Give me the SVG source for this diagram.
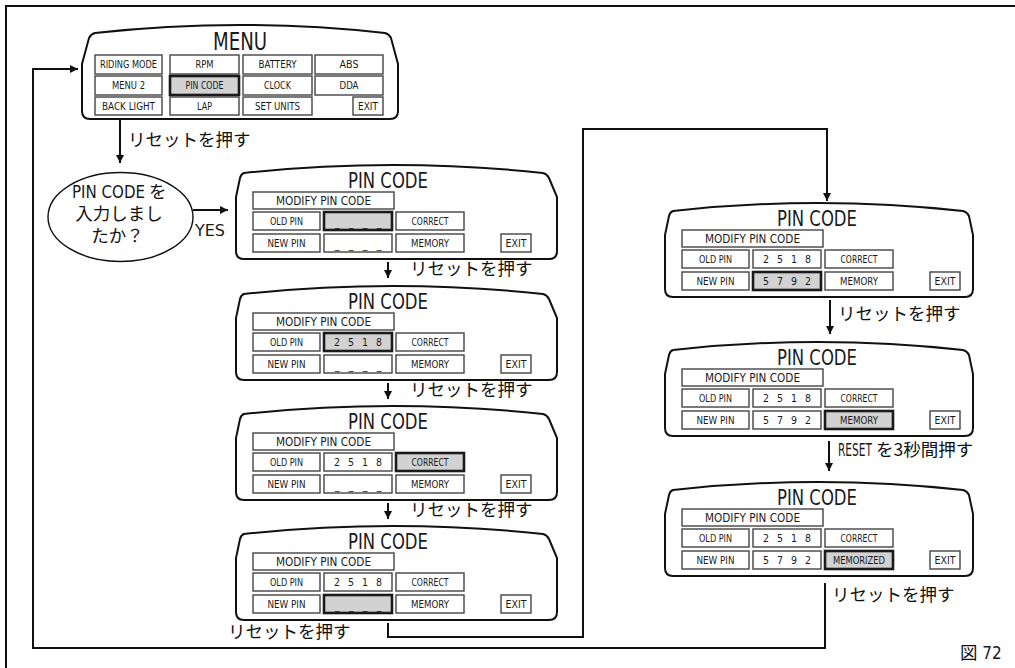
<svg xmlns="http://www.w3.org/2000/svg" width="1015" height="668" viewBox="0 0 1015 668">
<style>
.n{font-family:"Liberation Sans Narrow","Arial Narrow","DejaVu Sans Condensed","Liberation Sans",sans-serif;font-stretch:condensed;fill:#1a1a1a}
.jp{font-family:"Noto Sans CJK JP","Noto Sans CJK SC",sans-serif;fill:#111;font-size:17.5px}
.out{fill:#fff;stroke:#111;stroke-width:2}
.c{fill:#fff;stroke:#444;stroke-width:1.4}
.hl{fill:#d2d2d2;stroke:#1a1a1a;stroke-width:2.6}
.t{font-size:22px;text-anchor:middle}
.s{font-size:10.5px;text-anchor:middle}
.m{font-size:12px;text-anchor:middle}
.ln{fill:none;stroke:#111;stroke-width:2}
</style>
<defs>
<marker id="ah" viewBox="0 0 10 10" refX="10" refY="5" markerWidth="8" markerHeight="8" orient="auto" markerUnits="userSpaceOnUse"><path d="M0,0 L10,5 L0,10 Z" fill="#111"/></marker>
</defs>

<path class="ln" d="M6,668 L6,6 L1015,6"/>

<g id="menu">
<path class="out" d="M95,33 Q240,17 385,33 Q389,34 391,38 L398,64 L398,111 Q398,119 390,119 L90,119 Q82,119 82,111 L82,64 L89,38 Q91,34 95,33 Z"/>
<text class="n" x="240" y="50" font-size="24" text-anchor="middle" textLength="54" lengthAdjust="spacingAndGlyphs">MENU</text>
<rect class="c" x="95" y="55" width="67" height="19"/><text class="n s" x="128.5" y="68.3" textLength="57" lengthAdjust="spacingAndGlyphs">RIDING MODE</text>
<rect class="c" x="170" y="55" width="69" height="19"/><text class="n s" x="204.5" y="68.3" textLength="18" lengthAdjust="spacingAndGlyphs">RPM</text>
<rect class="c" x="243" y="55" width="69" height="19"/><text class="n s" x="277.5" y="68.3" textLength="38" lengthAdjust="spacingAndGlyphs">BATTERY</text>
<rect class="c" x="315" y="55" width="68" height="19"/><text class="n s" x="349" y="68.3" textLength="19" lengthAdjust="spacingAndGlyphs">ABS</text>
<rect class="c" x="95" y="76" width="67" height="19"/><text class="n s" x="128.5" y="89.3" textLength="33" lengthAdjust="spacingAndGlyphs">MENU 2</text>
<rect class="hl" x="170" y="76" width="69" height="19"/><text class="n s" x="204.5" y="89.3" textLength="38" lengthAdjust="spacingAndGlyphs">PIN CODE</text>
<rect class="c" x="243" y="76" width="69" height="19"/><text class="n s" x="277.5" y="89.3" textLength="27" lengthAdjust="spacingAndGlyphs">CLOCK</text>
<rect class="c" x="315" y="76" width="68" height="19"/><text class="n s" x="349" y="89.3" textLength="19" lengthAdjust="spacingAndGlyphs">DDA</text>
<rect class="c" x="95" y="97" width="67" height="18"/><text class="n s" x="128.5" y="109.8" textLength="53" lengthAdjust="spacingAndGlyphs">BACK LIGHT</text>
<rect class="c" x="170" y="97" width="69" height="18"/><text class="n s" x="204.5" y="109.8" textLength="15" lengthAdjust="spacingAndGlyphs">LAP</text>
<rect class="c" x="243" y="97" width="69" height="18"/><text class="n s" x="277.5" y="109.8" textLength="45" lengthAdjust="spacingAndGlyphs">SET UNITS</text>
<rect class="c" x="353" y="97" width="30" height="18"/><text class="n s" x="368" y="109.8" textLength="20" lengthAdjust="spacingAndGlyphs">EXIT</text>
</g>

<g id="decision">
<ellipse cx="120.5" cy="217" rx="72.5" ry="44.5" fill="#fff" stroke="#111" stroke-width="1.4"/>
<text y="198"><tspan class="n" font-size="17" x="72" textLength="73" lengthAdjust="spacingAndGlyphs">PIN CODE</tspan><tspan class="jp" font-size="17.5" x="149">を</tspan></text>
<text class="jp" font-size="17.5" text-anchor="middle" x="119" y="220">入力しまし</text>
<text class="jp" font-size="17.5" text-anchor="middle" x="117.5" y="242">たか？</text>
</g>

<g id="screen-1">
<path class="out" d="M244,173 Q393,157 543,173 Q547,174 549,178 L557,197 L557,251 Q557,259 549,259 L244,259 Q236,259 236,251 L236,197 L240,178 Q241,174 244,173 Z"/>
<text class="n t" x="388" y="188" textLength="80" lengthAdjust="spacingAndGlyphs">PIN CODE</text>
<rect class="c" x="253" y="192" width="141" height="17"/><text class="n m" x="323.5" y="204.5" textLength="95" lengthAdjust="spacingAndGlyphs">MODIFY PIN CODE</text>
<rect class="c" x="253" y="212" width="67" height="18"/><text class="n s" x="286.5" y="224.8" textLength="33" lengthAdjust="spacingAndGlyphs">OLD PIN</text>
<rect class="hl" x="324" y="212" width="68" height="18"/><text class="n s" x="337 351 365 379" y="226">____</text>
<rect class="c" x="396" y="212" width="68" height="18"/><text class="n s" x="430" y="224.8" textLength="37" lengthAdjust="spacingAndGlyphs">CORRECT</text>
<rect class="c" x="253" y="234" width="67" height="18"/><text class="n s" x="286.5" y="246.8" textLength="38" lengthAdjust="spacingAndGlyphs">NEW PIN</text>
<rect class="c" x="324" y="234" width="68" height="18"/><text class="n s" x="337 351 365 379" y="248">____</text>
<rect class="c" x="396" y="234" width="68" height="18"/><text class="n s" x="430" y="246.8" textLength="38" lengthAdjust="spacingAndGlyphs">MEMORY</text>
<rect class="c" x="501" y="234" width="30" height="18"/><text class="n s" x="516" y="246.8" textLength="21" lengthAdjust="spacingAndGlyphs">EXIT</text>
</g>

<g id="screen-2" transform="translate(0,121)">
<path class="out" d="M244,173 Q393,157 543,173 Q547,174 549,178 L557,197 L557,251 Q557,259 549,259 L244,259 Q236,259 236,251 L236,197 L240,178 Q241,174 244,173 Z"/>
<text class="n t" x="388" y="188" textLength="80" lengthAdjust="spacingAndGlyphs">PIN CODE</text>
<rect class="c" x="253" y="192" width="141" height="17"/><text class="n m" x="323.5" y="204.5" textLength="95" lengthAdjust="spacingAndGlyphs">MODIFY PIN CODE</text>
<rect class="c" x="253" y="212" width="67" height="18"/><text class="n s" x="286.5" y="224.8" textLength="33" lengthAdjust="spacingAndGlyphs">OLD PIN</text>
<rect class="hl" x="324" y="212" width="68" height="18"/><text class="n s" x="337 351 365 379" y="224.8">2518</text>
<rect class="c" x="396" y="212" width="68" height="18"/><text class="n s" x="430" y="224.8" textLength="37" lengthAdjust="spacingAndGlyphs">CORRECT</text>
<rect class="c" x="253" y="234" width="67" height="18"/><text class="n s" x="286.5" y="246.8" textLength="38" lengthAdjust="spacingAndGlyphs">NEW PIN</text>
<rect class="c" x="324" y="234" width="68" height="18"/><text class="n s" x="337 351 365 379" y="248">____</text>
<rect class="c" x="396" y="234" width="68" height="18"/><text class="n s" x="430" y="246.8" textLength="38" lengthAdjust="spacingAndGlyphs">MEMORY</text>
<rect class="c" x="501" y="234" width="30" height="18"/><text class="n s" x="516" y="246.8" textLength="21" lengthAdjust="spacingAndGlyphs">EXIT</text>
</g>

<g id="screen-3" transform="translate(0,241)">
<path class="out" d="M244,173 Q393,157 543,173 Q547,174 549,178 L557,197 L557,251 Q557,259 549,259 L244,259 Q236,259 236,251 L236,197 L240,178 Q241,174 244,173 Z"/>
<text class="n t" x="388" y="188" textLength="80" lengthAdjust="spacingAndGlyphs">PIN CODE</text>
<rect class="c" x="253" y="192" width="141" height="17"/><text class="n m" x="323.5" y="204.5" textLength="95" lengthAdjust="spacingAndGlyphs">MODIFY PIN CODE</text>
<rect class="c" x="253" y="212" width="67" height="18"/><text class="n s" x="286.5" y="224.8" textLength="33" lengthAdjust="spacingAndGlyphs">OLD PIN</text>
<rect class="c" x="324" y="212" width="68" height="18"/><text class="n s" x="337 351 365 379" y="224.8">2518</text>
<rect class="hl" x="396" y="212" width="68" height="18"/><text class="n s" x="430" y="224.8" textLength="37" lengthAdjust="spacingAndGlyphs">CORRECT</text>
<rect class="c" x="253" y="234" width="67" height="18"/><text class="n s" x="286.5" y="246.8" textLength="38" lengthAdjust="spacingAndGlyphs">NEW PIN</text>
<rect class="c" x="324" y="234" width="68" height="18"/><text class="n s" x="337 351 365 379" y="248">____</text>
<rect class="c" x="396" y="234" width="68" height="18"/><text class="n s" x="430" y="246.8" textLength="38" lengthAdjust="spacingAndGlyphs">MEMORY</text>
<rect class="c" x="501" y="234" width="30" height="18"/><text class="n s" x="516" y="246.8" textLength="21" lengthAdjust="spacingAndGlyphs">EXIT</text>
</g>

<g id="screen-4" transform="translate(0,361)">
<path class="out" d="M244,173 Q393,157 543,173 Q547,174 549,178 L557,197 L557,251 Q557,259 549,259 L244,259 Q236,259 236,251 L236,197 L240,178 Q241,174 244,173 Z"/>
<text class="n t" x="388" y="188" textLength="80" lengthAdjust="spacingAndGlyphs">PIN CODE</text>
<rect class="c" x="253" y="192" width="141" height="17"/><text class="n m" x="323.5" y="204.5" textLength="95" lengthAdjust="spacingAndGlyphs">MODIFY PIN CODE</text>
<rect class="c" x="253" y="212" width="67" height="18"/><text class="n s" x="286.5" y="224.8" textLength="33" lengthAdjust="spacingAndGlyphs">OLD PIN</text>
<rect class="c" x="324" y="212" width="68" height="18"/><text class="n s" x="337 351 365 379" y="224.8">2518</text>
<rect class="c" x="396" y="212" width="68" height="18"/><text class="n s" x="430" y="224.8" textLength="37" lengthAdjust="spacingAndGlyphs">CORRECT</text>
<rect class="c" x="253" y="234" width="67" height="18"/><text class="n s" x="286.5" y="246.8" textLength="38" lengthAdjust="spacingAndGlyphs">NEW PIN</text>
<rect class="hl" x="324" y="234" width="68" height="18"/><text class="n s" x="337 351 365 379" y="248">____</text>
<rect class="c" x="396" y="234" width="68" height="18"/><text class="n s" x="430" y="246.8" textLength="38" lengthAdjust="spacingAndGlyphs">MEMORY</text>
<rect class="c" x="501" y="234" width="30" height="18"/><text class="n s" x="516" y="246.8" textLength="21" lengthAdjust="spacingAndGlyphs">EXIT</text>
</g>

<g id="screen-5" transform="translate(429,38)">
<path class="out" d="M244,173 Q389,157 534,173 Q538,174 540,178 L544,197 L544,251 Q544,259 536,259 L244,259 Q236,259 236,251 L236,197 L240,178 Q241,174 244,173 Z"/>
<text class="n t" x="388" y="188" textLength="80" lengthAdjust="spacingAndGlyphs">PIN CODE</text>
<rect class="c" x="253" y="192" width="141" height="17"/><text class="n m" x="323.5" y="204.5" textLength="95" lengthAdjust="spacingAndGlyphs">MODIFY PIN CODE</text>
<rect class="c" x="253" y="212" width="67" height="18"/><text class="n s" x="286.5" y="224.8" textLength="33" lengthAdjust="spacingAndGlyphs">OLD PIN</text>
<rect class="c" x="324" y="212" width="68" height="18"/><text class="n s" x="337 351 365 379" y="224.8">2518</text>
<rect class="c" x="396" y="212" width="68" height="18"/><text class="n s" x="430" y="224.8" textLength="37" lengthAdjust="spacingAndGlyphs">CORRECT</text>
<rect class="c" x="253" y="234" width="67" height="18"/><text class="n s" x="286.5" y="246.8" textLength="38" lengthAdjust="spacingAndGlyphs">NEW PIN</text>
<rect class="hl" x="324" y="234" width="68" height="18"/><text class="n s" x="337 351 365 379" y="246.8">5792</text>
<rect class="c" x="396" y="234" width="68" height="18"/><text class="n s" x="430" y="246.8" textLength="38" lengthAdjust="spacingAndGlyphs">MEMORY</text>
<rect class="c" x="501" y="234" width="30" height="18"/><text class="n s" x="516" y="246.8" textLength="21" lengthAdjust="spacingAndGlyphs">EXIT</text>
</g>

<g id="screen-6" transform="translate(429,177)">
<path class="out" d="M244,173 Q389,157 534,173 Q538,174 540,178 L544,197 L544,251 Q544,259 536,259 L244,259 Q236,259 236,251 L236,197 L240,178 Q241,174 244,173 Z"/>
<text class="n t" x="388" y="188" textLength="80" lengthAdjust="spacingAndGlyphs">PIN CODE</text>
<rect class="c" x="253" y="192" width="141" height="17"/><text class="n m" x="323.5" y="204.5" textLength="95" lengthAdjust="spacingAndGlyphs">MODIFY PIN CODE</text>
<rect class="c" x="253" y="212" width="67" height="18"/><text class="n s" x="286.5" y="224.8" textLength="33" lengthAdjust="spacingAndGlyphs">OLD PIN</text>
<rect class="c" x="324" y="212" width="68" height="18"/><text class="n s" x="337 351 365 379" y="224.8">2518</text>
<rect class="c" x="396" y="212" width="68" height="18"/><text class="n s" x="430" y="224.8" textLength="37" lengthAdjust="spacingAndGlyphs">CORRECT</text>
<rect class="c" x="253" y="234" width="67" height="18"/><text class="n s" x="286.5" y="246.8" textLength="38" lengthAdjust="spacingAndGlyphs">NEW PIN</text>
<rect class="c" x="324" y="234" width="68" height="18"/><text class="n s" x="337 351 365 379" y="246.8">5792</text>
<rect class="hl" x="396" y="234" width="68" height="18"/><text class="n s" x="430" y="246.8" textLength="38" lengthAdjust="spacingAndGlyphs">MEMORY</text>
<rect class="c" x="501" y="234" width="30" height="18"/><text class="n s" x="516" y="246.8" textLength="21" lengthAdjust="spacingAndGlyphs">EXIT</text>
</g>

<g id="screen-7" transform="translate(429,317)">
<path class="out" d="M244,173 Q389,157 534,173 Q538,174 540,178 L544,197 L544,251 Q544,259 536,259 L244,259 Q236,259 236,251 L236,197 L240,178 Q241,174 244,173 Z"/>
<text class="n t" x="388" y="188" textLength="80" lengthAdjust="spacingAndGlyphs">PIN CODE</text>
<rect class="c" x="253" y="192" width="141" height="17"/><text class="n m" x="323.5" y="204.5" textLength="95" lengthAdjust="spacingAndGlyphs">MODIFY PIN CODE</text>
<rect class="c" x="253" y="212" width="67" height="18"/><text class="n s" x="286.5" y="224.8" textLength="33" lengthAdjust="spacingAndGlyphs">OLD PIN</text>
<rect class="c" x="324" y="212" width="68" height="18"/><text class="n s" x="337 351 365 379" y="224.8">2518</text>
<rect class="c" x="396" y="212" width="68" height="18"/><text class="n s" x="430" y="224.8" textLength="37" lengthAdjust="spacingAndGlyphs">CORRECT</text>
<rect class="c" x="253" y="234" width="67" height="18"/><text class="n s" x="286.5" y="246.8" textLength="38" lengthAdjust="spacingAndGlyphs">NEW PIN</text>
<rect class="c" x="324" y="234" width="68" height="18"/><text class="n s" x="337 351 365 379" y="246.8">5792</text>
<rect class="hl" x="396" y="234" width="68" height="18"/><text class="n s" x="430" y="246.8" textLength="52" lengthAdjust="spacingAndGlyphs">MEMORIZED</text>
<rect class="c" x="501" y="234" width="30" height="18"/><text class="n s" x="516" y="246.8" textLength="21" lengthAdjust="spacingAndGlyphs">EXIT</text>
</g>

<g id="connectors">
<path class="ln" d="M825,583 L825,648 L33,648 L33,69 L78,69" marker-end="url(#ah)"/>
<path class="ln" d="M120,120 L120,163" marker-end="url(#ah)"/>
<path class="ln" d="M193,210 L228,210" marker-end="url(#ah)"/>
<path class="ln" d="M388,262 L388,278" marker-end="url(#ah)"/>
<path class="ln" d="M388,383 L388,399" marker-end="url(#ah)"/>
<path class="ln" d="M388,503 L388,519" marker-end="url(#ah)"/>
<path class="ln" d="M388,623 L388,637 L583,637 L583,129 L827,129 L827,201" marker-end="url(#ah)"/>
<path class="ln" d="M830,300 L830,334" marker-end="url(#ah)"/>
<path class="ln" d="M829,441 L829,471" marker-end="url(#ah)"/>
<text class="jp" x="128" y="146">リセットを押す</text>
<text class="n" x="195" y="236" font-size="16" textLength="30" lengthAdjust="spacingAndGlyphs">YES</text>
<text class="jp" x="410" y="275">リセットを押す</text>
<text class="jp" x="410" y="396">リセットを押す</text>
<text class="jp" x="410" y="516">リセットを押す</text>
<text class="jp" x="228" y="638">リセットを押す</text>
<text class="jp" x="838" y="320">リセットを押す</text>
<text y="456"><tspan class="n" font-size="17.5" x="838" textLength="34" lengthAdjust="spacingAndGlyphs">RESET</tspan><tspan class="jp" x="876">を3秒間押す</tspan></text>
<text class="jp" x="832" y="601">リセットを押す</text>
</g>

<text class="jp" x="960" y="659" font-size="17">図<tspan class="n" font-size="17"> 72</tspan></text>
</svg>
